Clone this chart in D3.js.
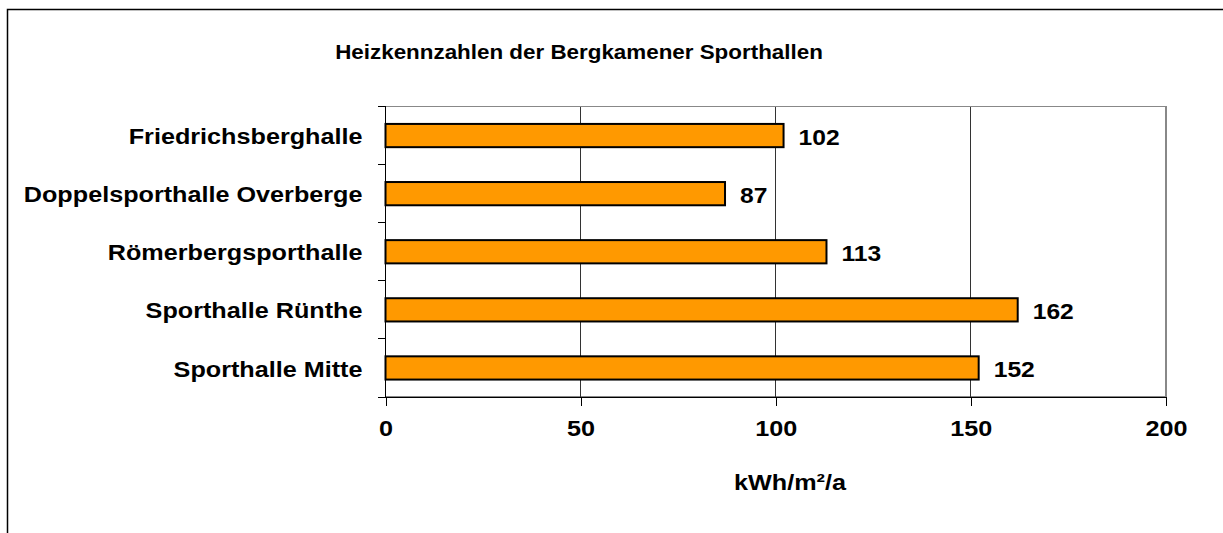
<!DOCTYPE html>
<html>
<head>
<meta charset="utf-8">
<title>Heizkennzahlen der Bergkamener Sporthallen</title>
<style>
	body { margin: 0; background: #fff; }
	svg { display: block; font-family: "Liberation Sans", Arial, sans-serif; font-weight: bold; }
	.axis path, .axis line { stroke: #000; shape-rendering: crispEdges; }
	.axis text { fill: #000; }
	.grid line { stroke: #333; shape-rendering: crispEdges; }
	.bar { fill: #ff9900; stroke: #000; stroke-width: 2; }
</style>
</head>
<body>
<div id="chart"></div>
<script src="https://d3js.org/d3.v7.min.js"></script>
<script>
// data
var halls = ["Friedrichsberghalle", "Doppelsporthalle Overberge", "Römerbergsporthalle", "Sporthalle Rünthe", "Sporthalle Mitte"];
var values = [102, 87, 113, 162, 152];
var xTicks = [0, 50, 100, 150, 200];

var W = 1223, H = 533;
var margin = {top: 106.5, right: 57, bottom: 136, left: 385.5},
	width = W - margin.left - margin.right,
	height = H - margin.top - margin.bottom;
var SX = 1.12; // the original text is a bit wide

// move x/y into a transform so the text can be stretched horizontally
function stretch(sel) {
	sel.each(function() {
		var t = d3.select(this);
		var tx = +t.attr("x") || 0, ty = +t.attr("y") || 0;
		t.attr("x", 0).attr("y", 0)
			.attr("transform", "translate(" + tx + "," + ty + ") scale(" + SX + ",1)");
	});
}

var svg = d3.select("#chart").append("svg")
	.attr("width", W)
	.attr("height", H);

// outer frame
svg.append("rect")
	.attr("x", 7.5).attr("y", 9.5)
	.attr("width", W + 10).attr("height", H + 10)
	.attr("fill", "none").attr("stroke", "#000").attr("stroke-width", 1.5);

svg.append("text")
	.attr("x", 579).attr("y", 59)
	.attr("text-anchor", "middle")
	.style("font-size", "20px")
	.text("Heizkennzahlen der Bergkamener Sporthallen")
	.call(stretch);

var g = svg.append("g")
	.attr("transform", "translate(" + margin.left + "," + margin.top + ")");

var x = d3.scaleLinear().domain([0, 200]).range([0, width]);
var y = d3.scaleBand().domain(halls).range([0, height]).paddingInner(0.6).paddingOuter(0.3);
var yb = d3.scaleBand().domain(halls).range([0, height]);

// plot frame (top/right grey)
g.append("rect")
	.attr("width", width).attr("height", height)
	.attr("fill", "none").attr("stroke", "#888").attr("stroke-width", 1.5)
	.style("shape-rendering", "crispEdges");

// gridlines
g.append("g").attr("class", "grid")
	.selectAll("line")
	.data(xTicks.slice(1, -1))
	.enter().append("line")
	.attr("x1", function(d) { return x(d); })
	.attr("x2", function(d) { return x(d); })
	.attr("y1", 0).attr("y2", height);

// bars
g.selectAll(".bar")
	.data(values)
	.enter().append("rect")
	.attr("class", "bar")
	.attr("x", x(0))
	.attr("y", function(d, i) { return y(halls[i]); })
	.attr("width", function(d) { return x(d) - x(0); })
	.attr("height", y.bandwidth());

// value labels
g.selectAll(".val")
	.data(values)
	.enter().append("text")
	.attr("class", "val")
	.attr("x", function(d) { return x(d) + 15; })
	.attr("y", function(d, i) { return y(halls[i]) + y.bandwidth() / 2; })
	.attr("dy", "0.42em")
	.style("font-size", "22px")
	.text(function(d) { return d; })
	.call(stretch);

// x axis
var xAxis = g.append("g").attr("class", "axis")
	.attr("transform", "translate(0," + height + ")")
	.call(d3.axisBottom(x).tickValues(xTicks).tickSizeInner(9).tickSizeOuter(0).tickPadding(14));
xAxis.select(".domain").attr("stroke-width", 1.5);
xAxis.selectAll("text").style("font-size", "22.5px").attr("dy", "0.72em").call(stretch);

// y axis: ticks at band boundaries
var yAxis = g.append("g").attr("class", "axis");
yAxis.append("line")
	.attr("x1", 0).attr("x2", 0).attr("y1", 0).attr("y2", height)
	.attr("stroke-width", 1.5);
yAxis.selectAll(".yt")
	.data(halls.concat(["end"]))
	.enter().append("line")
	.attr("x1", -8).attr("x2", 0)
	.attr("y1", function(d, i) { return i < halls.length ? yb(d) : height; })
	.attr("y2", function(d, i) { return i < halls.length ? yb(d) : height; });
yAxis.selectAll(".ylab")
	.data(halls)
	.enter().append("text")
	.attr("x", -23)
	.attr("y", function(d) { return yb(d) + yb.bandwidth() / 2; })
	.attr("dy", "0.38em")
	.attr("text-anchor", "end")
	.style("font-size", "22.5px")
	.text(function(d) { return d; })
	.call(stretch);

// axis title
svg.append("text")
	.attr("x", 790).attr("y", 490)
	.attr("text-anchor", "middle")
	.style("font-size", "22.5px")
	.text("kWh/m²/a")
	.call(stretch);
</script>
</body>
</html>
